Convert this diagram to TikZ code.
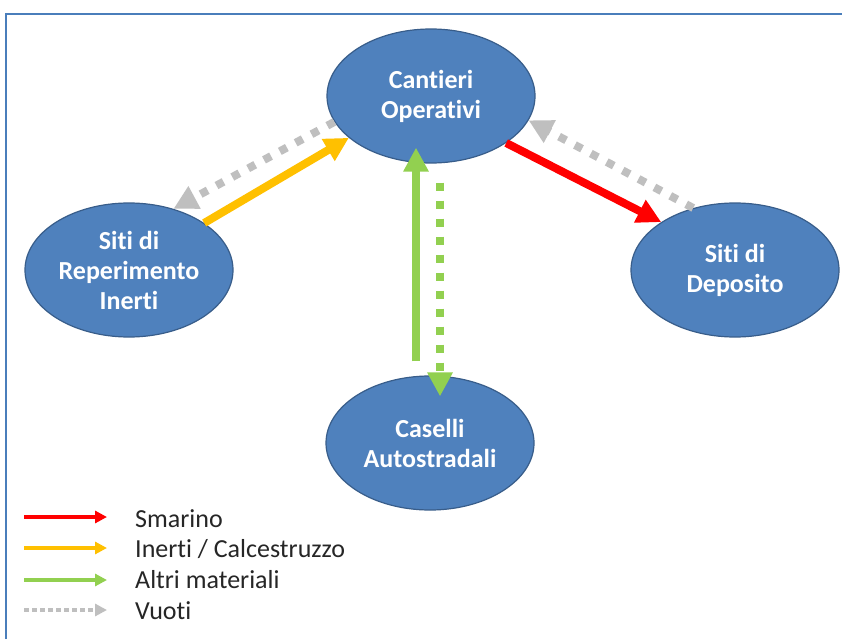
\documentclass[tikz,border=0pt]{standalone}
\usepackage{fontspec}
\setmainfont{Carlito}[Ligatures={NoCommon}]
\usetikzlibrary{arrows.meta, shapes.geometric}
\definecolor{siteB}{RGB}{79, 129, 189}
\definecolor{siteE}{RGB}{56, 93, 138}
\definecolor{frameC}{RGB}{74, 126, 187}
\definecolor{smaC}{RGB}{255, 0, 0}
\definecolor{inaC}{RGB}{255, 192, 0}
\definecolor{altC}{RGB}{146, 208, 80}
\definecolor{vuoC}{RGB}{191, 191, 191}

\begin{document}
\begin{tikzpicture}[x=1pt, y=-1pt,
    site/.style={ellipse, fill=siteB, draw=siteE, line width=1.2pt,
      minimum width=208pt, minimum height=134pt, inner sep=0pt,
      align=center, text=white, font=\bfseries\fontsize{26}{30}\selectfont},
    flow/.style={line width=8pt, -{Triangle[length=24pt, width=24pt]}},
    empty/.style={flow, dash pattern=on 8pt off 10pt},
    legtext/.style={anchor=base west, inner sep=0pt,
      font=\fontsize{26}{30}\selectfont, text=black!85},
    legline/.style={line width=4pt, -{Triangle[length=12pt, width=12pt]}}]
        % Pixel grid of the page: x to the right, y downwards.
        \useasboundingbox (0, 0) rectangle (842, 639);
        \fill[white] (0, 0) rectangle (842, 639);

        % ── Frame (top and left edge only) ──────────────────────────────
        \draw[frameC, line width=2pt] (6, 639) -- (6, 14) -- (842, 14);

        % ── Sites ───────────────────────────────────────────────────────
        \node[site] (cant) at (431, 96)  {Cantieri\\Operativi};
        \node[site] (rep)  at (129, 270) {Siti di\\Reperimento\\Inerti};
        \node[site] (dep)  at (735, 270) {Siti di\\Deposito};
        \node[site] (cas)  at (430, 443) {Caselli\\Autostradali};

        % ── Flows ───────────────────────────────────────────────────────
        \draw[flow, inaC]  (rep.32) -- (cant.207);
        \draw[empty, vuoC] (cant.195) -- (rep.54);
        \draw[flow, smaC]  (cant.328) -- (dep.147);
        \draw[empty, vuoC] (dep.124) -- (cant.346);
        \draw[flow, altC]  ([xshift=-14pt, yshift=14pt]cas.north)
              -- ([xshift=-15pt, yshift=16pt]cant.south);
        \draw[empty, altC] ([xshift=9pt, yshift=-19pt]cant.south)
              -- ([xshift=10pt, yshift=-21pt]cas.north);

        % ── Legend ──────────────────────────────────────────────────────
        \node[legtext] (lsma) at (135, 527) {Smarino};
        \node[legtext] (lina) at (135, 557) {Inerti / Calcestruzzo};
        \node[legtext] (lalt) at (135, 588) {Altri materiali};
        \node[legtext] (lvuo) at (135, 619) {Vuoti};
        \draw[legline, smaC] ([xshift=-111pt, yshift=10pt]lsma.base west)
              -- ([xshift=-28pt, yshift=10pt]lsma.base west);
        \draw[legline, inaC] ([xshift=-111pt, yshift=9pt]lina.base west)
              -- ([xshift=-28pt, yshift=9pt]lina.base west);
        \draw[legline, altC] ([xshift=-111pt, yshift=8pt]lalt.base west)
              -- ([xshift=-28pt, yshift=8pt]lalt.base west);
        \draw[legline, vuoC, dash pattern=on 4.5pt off 3.5pt]
              ([xshift=-111pt, yshift=9pt]lvuo.base west)
              -- ([xshift=-28pt, yshift=9pt]lvuo.base west);
      \end{tikzpicture}
\end{document}
